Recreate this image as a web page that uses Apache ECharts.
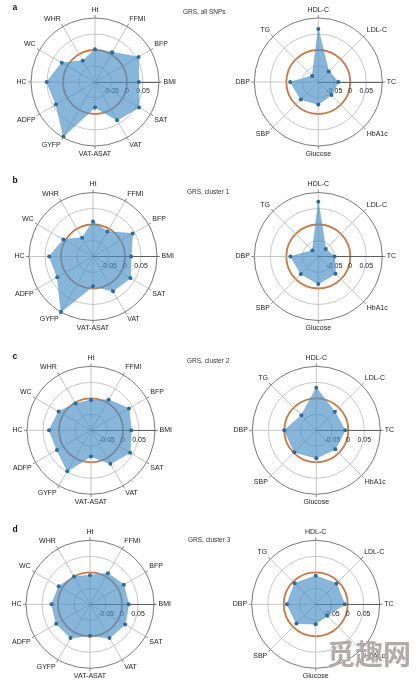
<!DOCTYPE html>
<html><head><meta charset="utf-8">
<style>html,body{margin:0;padding:0;background:#fff}#c{width:416px;height:684px}</style>
<script src="https://cdn.jsdelivr.net/npm/echarts@6/dist/echarts.min.js"></script>
</head><body><div id="c"></div>
<script>
const bodyTraits = ['Ht','FFMI','BFP','BMI','SAT','VAT','VAT-ASAT','GYFP','ADFP','HC','WC','WHR'];
const metabolicTraits = ['HDL-C','LDL-C','TC','HbA1c','Glucose','SBP','DBP','TG'];
const tickValues = [-0.05, 0, 0.05];

const bodyAll = [0.002,0.007,0.057,0.037,0.059,0.038,-0.02,0.097,0.041,0.051,0.02,-0.023];
const metaAll = [0.066,-0.054,-0.037,-0.042,-0.03,-0.023,-0.012,-0.073];
const bodyC1 = [0.009,-0.01,0.043,0.019,0.035,0.025,-0.007,0.1,0.029,0.037,0.007,-0.032];
const metaC1 = [0.071,-0.067,-0.049,-0.024,-0.014,-0.023,-0.013,-0.074];
const bodyC2 = [-0.005,0.01,0.037,0.026,0.041,0.021,-0.018,0.048,0.023,0.031,0.017,-0.003];
const metaC2 = [0.033,-0.018,-0.01,-0.016,-0.013,-0.003,0,-0.034];
const bodyC3 = [-0.009,0.012,0.022,0.021,0.027,0.022,-0.002,0.022,0.022,0.02,0.013,0];
const metaC3 = [-0.011,-0.008,-0.009,-0.049,-0.038,-0.015,-0.01,-0.007];

const panelLetters = ['a','b','c','d'];
const panelTitles = ['GRS, all SNPs','GRS, cluster 1','GRS, cluster 2','GRS, cluster 3'];

const font = '"Liberation Sans", Arial, sans-serif';
const layout = [
  {lx:95, rx:318.3, y:82,  letterY:3.5, titleX:183, titleY:9},
  {lx:93, rx:318.3, y:256.5, letterY:176.5, titleX:187, titleY:189},
  {lx:91, rx:316.3, y:430.3, letterY:352, titleX:187, titleY:357.5},
  {lx:90, rx:315.7, y:604.3, letterY:525.5, titleX:188, titleY:537}
];
const R = 64;
const none = 'rgba(0,0,0,0)';
const rows = [[bodyAll,metaAll],[bodyC1,metaC1],[bodyC2,metaC2],[bodyC3,metaC3]];
const ccw = a => [a[0], ...a.slice(1).reverse()];
// the radius axis lies on the angle axis start, so the ring starts at the horizontal trait
const fromRight = a => { const q = a.length/4; return [...a.slice(q), ...a.slice(0,q)]; };

const polar=[],angleAxis=[],radiusAxis=[],radar=[],series=[],title=[];
rows.forEach((row,i)=>{
  const L = layout[i];
  title.push({text:panelLetters[i],left:12.5,top:L.letterY,padding:0,textStyle:{fontFamily:font,fontSize:8.5,fontWeight:'bold',color:'#111'}});
  title.push({text:panelTitles[i],left:L.titleX,top:L.titleY,padding:0,textStyle:{fontFamily:font,fontSize:6.5,fontWeight:'normal',color:'#333'}});
  [[L.lx,bodyTraits,row[0]],[L.rx,metabolicTraits,row[1]]].forEach(([cx,names,vals])=>{
    const k = polar.length;
    polar.push({center:[cx,L.y],radius:R});
    angleAxis.push({polarIndex:k,type:'category',data:fromRight(names),boundaryGap:false,startAngle:0,clockwise:true,z:1,
      axisLine:{show:false},
      axisTick:{show:true,length:3,lineStyle:{color:'#555',width:0.7}},
      axisLabel:{show:true,margin:4.5,fontFamily:font,fontSize:7,color:'#222',interval:0,hideOverlap:false},
      splitLine:{show:true,lineStyle:{color:'#b5b5b5',width:0.8}}});
    radiusAxis.push({polarIndex:k,type:'value',min:-0.1,max:0.1,interval:0.05,z:1,
      axisLine:{show:true,lineStyle:{color:'#444',width:0.8}},
      axisTick:{show:false},
      axisLabel:{show:true,margin:-13,fontFamily:font,fontSize:7,color:'#222',rotate:0,
        formatter:v=>{const t=tickValues.find(x=>Math.abs(x-v)<1e-6);return t===undefined?'':String(t);}},
      splitLine:{show:false},splitArea:{show:false}});
    const base = {center:[cx,L.y],radius:R,shape:'circle',splitNumber:4,startAngle:90,
      indicator:ccw(names).map(n=>({name:n,min:-0.1,max:0.1})),
      axisName:{show:false},axisLine:{show:false},axisTick:{show:false},axisLabel:{show:false},splitArea:{show:false}};
    // full grey rings and dark outer ring
    radar.push({...base,splitLine:{show:true,lineStyle:{color:[none,'#b9b9b9','#b9b9b9','#b9b9b9','#555555'],width:0.8}}});
    // orange reference ring at 0
    radar.push({...base,splitLine:{show:true,lineStyle:{color:[none,none,'#c97a45',none,none],width:1.8}}});
    series.push({type:'radar',radarIndex:radar.length-1,symbol:'circle',symbolSize:4,z:3,
      itemStyle:{color:'#2b6c98'},
      lineStyle:{color:'#6aa5d4',width:0.5},
      areaStyle:{color:'#4a90c8',opacity:0.66},
      data:[{value:ccw(vals)}]});
  });
});

const chart = echarts.init(document.getElementById('c'),null,{renderer:'canvas'});
chart.setOption({
  animation:false,backgroundColor:'#fff',
  title,polar,angleAxis,radiusAxis,radar,series,
  graphic:[{type:'text',left:327,top:640,z:100,style:{text:'觅趣网',fontFamily:'"Noto Sans CJK SC"',fontSize:28,fontWeight:'bold',fill:'#b3abab'}}]
});
</script></body></html>
